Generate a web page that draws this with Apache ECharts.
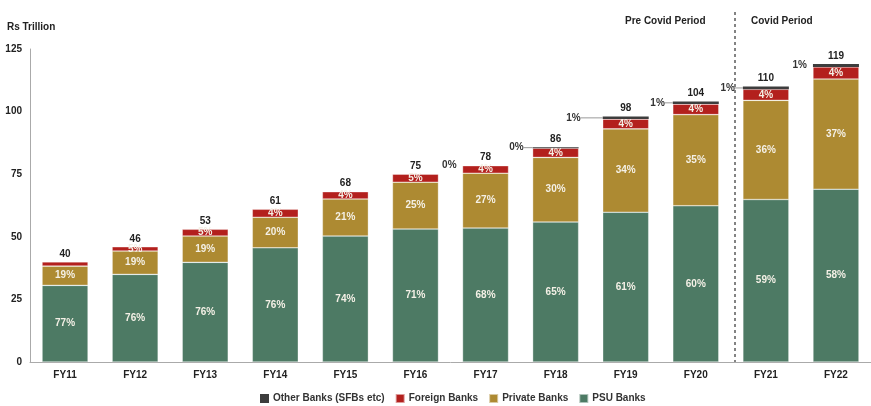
<!DOCTYPE html>
<html>
<head>
<meta charset="utf-8">
<script src="https://cdn.jsdelivr.net/npm/echarts@6/dist/echarts.min.js"></script>
<style>
  html, body { margin: 0; padding: 0; background: #fff; }
  #chart { width: 871px; height: 406px; }
</style>
</head>
<body>
<div id="chart"></div>
<script>
// data (Rs trillion)
const years = ['FY11', 'FY12', 'FY13', 'FY14', 'FY15', 'FY16', 'FY17', 'FY18', 'FY19', 'FY20', 'FY21', 'FY22'];
const psuBanks = [30.6, 35.0, 39.8, 45.6, 50.3, 53.1, 53.5, 55.9, 59.8, 62.4, 64.9, 69.0];
const privateBanks = [7.7, 9.3, 10.5, 12.2, 14.8, 18.7, 21.9, 25.8, 33.3, 36.4, 39.6, 44.0];
const foreignBanks = [1.7, 1.7, 2.7, 3.2, 2.9, 3.2, 3.0, 3.7, 3.9, 4.2, 4.4, 4.8];
const otherBanks = [0, 0, 0, 0, 0, 0, 0, 0.4, 1.0, 1.0, 1.1, 1.2];
const totals = [40, 46, 53, 61, 68, 75, 78, 86, 98, 104, 110, 119];

// share labels
const psuPct = ['77%', '76%', '76%', '76%', '74%', '71%', '68%', '65%', '61%', '60%', '59%', '58%'];
const privatePct = ['19%', '19%', '19%', '20%', '21%', '25%', '27%', '30%', '34%', '35%', '36%', '37%'];
const foreignPct = ['', '5%', '5%', '4%', '4%', '5%', '4%', '4%', '4%', '4%', '4%', '4%'];
const otherPct = ['', '', '', '', '', '', '0%', '0%', '1%', '1%', '1%', '1%'];

const yTicks = [0, 25, 50, 75, 100, 125];

// leader line length next to the "other" labels
const leaderLen = [0, 0, 0, 0, 0, 0, 0, 9, 22, 8, 8, 0];

const font = 'Liberation Sans, Arial, sans-serif';
const inLabel = (arr) => ({
  show: true,
  position: 'inside',
  color: '#f4f0e6',
  fontWeight: 'bold',
  fontSize: 10,
  fontFamily: font,
  formatter: (p) => arr[p.dataIndex]
});
const segStyle = (c) => ({ color: c, borderColor: 'rgba(255,255,255,0.55)', borderWidth: 0.6 });

const otherData = otherBanks.map((v, i) => {
  const len = leaderLen[i];
  return {
    value: v,
    label: {
      show: otherPct[i] !== '',
      position: 'left',
      distance: len ? 0 : 6,
      formatter: len ? '{t|' + otherPct[i] + '}{l|}' : '{t|' + otherPct[i] + '}',
      rich: {
        t: { color: '#333', fontWeight: 'bold', fontSize: 10, fontFamily: font },
        l: { width: len, height: 1, backgroundColor: '#999' }
      }
    }
  };
});

const chart = echarts.init(document.getElementById('chart'));
chart.setOption({
  animation: false,
  textStyle: { fontFamily: font },
  title: {
    text: 'Rs Trillion',
    left: 2,
    top: 17,
    textStyle: { fontSize: 10, fontWeight: 'bold', color: '#222', fontFamily: font }
  },
  grid: { left: 30, top: 49, bottom: 44, width: 847 },
  legend: {
    top: 388,
    left: 255,
    itemWidth: 9,
    itemHeight: 9,
    itemGap: 10,
    icon: 'rect',
    textStyle: { fontSize: 10, fontWeight: 'bold', color: '#333', fontFamily: font, padding: [0, 0, 0, -1] },
    data: ['Other Banks (SFBs etc)', 'Foreign Banks', 'Private Banks', 'PSU Banks']
  },
  xAxis: {
    type: 'category',
    data: years,
    axisLine: { lineStyle: { color: '#aaa' } },
    axisTick: { show: false },
    axisLabel: { color: '#222', fontWeight: 'bold', fontSize: 10, margin: 8 }
  },
  yAxis: {
    type: 'value',
    min: yTicks[0],
    max: yTicks[yTicks.length - 1],
    interval: 25,
    axisLine: { show: true, lineStyle: { color: '#aaa' } },
    axisTick: { show: false },
    splitLine: { show: false },
    axisLabel: { color: '#222', fontWeight: 'bold', fontSize: 10, margin: 8 }
  },
  graphic: [
    { type: 'line', shape: { x1: 735, y1: 12, x2: 735, y2: 362 },
      style: { stroke: '#333', lineWidth: 1.2, lineDash: [3, 3] } },
    { type: 'text', left: 625, top: 16,
      style: { text: 'Pre Covid Period', fontSize: 10, fontWeight: 'bold', fill: '#222', fontFamily: font } },
    { type: 'text', left: 751, top: 16,
      style: { text: 'Covid Period', fontSize: 10, fontWeight: 'bold', fill: '#222', fontFamily: font } }
  ],
  series: [
    { name: 'PSU Banks', type: 'bar', stack: 'b', barWidth: 46, data: psuBanks,
      itemStyle: segStyle('#4d7a64'), label: inLabel(psuPct) },
    { name: 'Private Banks', type: 'bar', stack: 'b', data: privateBanks,
      itemStyle: segStyle('#ad8a32'), label: inLabel(privatePct) },
    { name: 'Foreign Banks', type: 'bar', stack: 'b', data: foreignBanks,
      itemStyle: segStyle('#b3201d'), label: inLabel(foreignPct) },
    { name: 'Other Banks (SFBs etc)', type: 'bar', stack: 'b', data: otherData,
      itemStyle: { color: '#3d3d3d' } },
    { name: 'total', type: 'bar', stack: 'b', data: totals.map(() => 0),
      itemStyle: { color: 'transparent' },
      label: { show: true, position: 'top', distance: 3, color: '#222', fontWeight: 'bold', fontSize: 10,
        formatter: (p) => totals[p.dataIndex] } }
  ]
});
</script>
</body>
</html>
